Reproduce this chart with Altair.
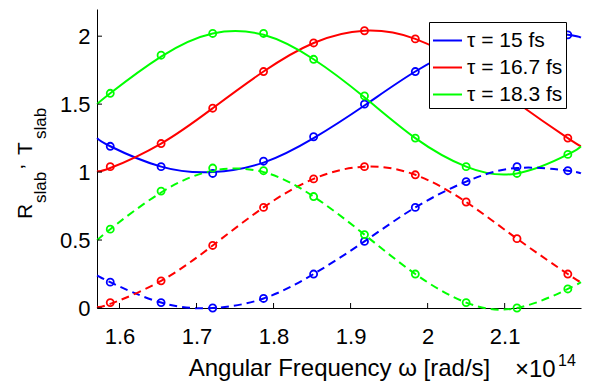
import altair as alt
import pandas as pd

# ---------------- data (x in units of 1e14 rad/s) ----------------
series = ["τ = 15 fs", "τ = 16.7 fs", "τ = 18.3 fs"]
colors = ["#0000ff", "#ff0000", "#00ff00"]

x_line = [1.571, 1.588, 1.654, 1.721, 1.787, 1.852, 1.918, 1.984, 2.050, 2.116, 2.182, 2.199]
blue_solid = [1.25, 1.19, 1.04, 1.00, 1.07, 1.25, 1.49, 1.74, 1.93, 2.03, 2.01, 1.99]
red_solid = [1.01, 1.03, 1.21, 1.47, 1.74, 1.95, 2.04, 1.98, 1.78, 1.51, 1.25, 1.19]
green_solid = [1.50, 1.58, 1.85, 2.02, 2.01, 1.83, 1.55, 1.25, 1.04, 0.99, 1.13, 1.19]
blue_dash = [0.24, 0.19, 0.04, 0.00, 0.07, 0.25, 0.49, 0.74, 0.93, 1.03, 1.01, 0.99]
red_dash = [0.01, 0.03, 0.20, 0.46, 0.74, 0.95, 1.04, 0.98, 0.78, 0.51, 0.25, 0.19]
green_dash = [0.50, 0.58, 0.85, 1.01, 1.00, 0.82, 0.54, 0.25, 0.04, 0.00, 0.14, 0.19]

x_mark = [1.588, 1.654, 1.721, 1.787, 1.852, 1.918, 1.984, 2.050, 2.116, 2.182]
blue_solid_m = [1.19, 1.04, 0.99, 1.08, 1.26, 1.50, 1.74, 1.93, 2.04, 2.01]
red_solid_m = [1.04, 1.21, 1.47, 1.74, 1.95, 2.04, 1.98, 1.78, 1.51, 1.25]
green_solid_m = [1.58, 1.86, 2.02, 2.02, 1.83, 1.56, 1.25, 1.04, 0.99, 1.13]
blue_dash_m = [0.19, 0.04, 0.00, 0.07, 0.25, 0.49, 0.74, 0.93, 1.04, 1.01]
red_dash_m = [0.04, 0.20, 0.46, 0.74, 0.95, 1.04, 0.98, 0.78, 0.51, 0.25]
green_dash_m = [0.58, 0.86, 1.03, 1.01, 0.82, 0.54, 0.25, 0.04, 0.00, 0.14]

x_ticks = [1.6, 1.7, 1.8, 1.9, 2.0, 2.1]
y_ticks = [0, 0.5, 1, 1.5, 2]
x_domain = [1.5708, 2.1991]
y_domain = [0, 2.2]

# ---------------- tables ----------------
def long(xs, ys_list, kind):
    rows = []
    for s, ys in zip(series, ys_list):
        for i, (xv, yv) in enumerate(zip(xs, ys)):
            rows.append({"series": s, "x": xv, "y": yv, "kind": kind, "order": i})
    return rows

lines = pd.DataFrame(long(x_line, [blue_solid, red_solid, green_solid], "solid")
                     + long(x_line, [blue_dash, red_dash, green_dash], "dash"))
marks = pd.DataFrame(long(x_mark, [blue_solid_m, red_solid_m, green_solid_m], "solid")
                     + long(x_mark, [blue_dash_m, red_dash_m, green_dash_m], "dash"))

W, H = 484, 299
FONT = "Liberation Sans"

xs = alt.Scale(domain=x_domain, nice=False, zero=False)
ys = alt.Scale(domain=y_domain, nice=False, zero=False)
cs = alt.Scale(domain=series, range=colors)

x_enc = alt.X("x:Q", scale=xs, axis=alt.Axis(
    values=x_ticks, format="~g", ticks=False, grid=False, labelPadding=18,
    labelFontSize=22, labelFont=FONT, labelColor="black", domainColor="black",
    title="Angular Frequency ω [rad/s]", titleFont=FONT, titleFontSize=24,
    titleFontWeight="normal", titleColor="black", titleX=W / 2, titleY=67,
    titleBaseline="alphabetic", titleAlign="center"))
y_enc = alt.Y("y:Q", scale=ys, axis=alt.Axis(
    values=y_ticks, format="~g", ticks=False, grid=False, labelPadding=7,
    labelFontSize=22, labelFont=FONT, labelColor="black", domainColor="black",
    title=""))

solid = alt.Chart(lines).transform_filter(alt.datum.kind == "solid").mark_line(
    strokeWidth=2, interpolate="natural").encode(
    x=x_enc, y=y_enc, order="order:Q",
    color=alt.Color("series:N", scale=cs, legend=alt.Legend(
        orient="none", legendX=332, legendY=13, title=None,
        symbolType="stroke", symbolSize=841, symbolStrokeWidth=2,
        labelFontSize=21, labelFont=FONT, labelColor="black", labelOffset=4,
        strokeColor="black", fillColor="white", padding=3, rowPadding=1,
        cornerRadius=0)))

dashed = alt.Chart(lines).transform_filter(alt.datum.kind == "dash").mark_line(
    strokeWidth=2, interpolate="natural", strokeDash=[8, 5]).encode(
    x="x:Q", y="y:Q", order="order:Q",
    color=alt.Color("series:N", scale=cs, legend=None))

points = alt.Chart(marks).mark_point(shape="circle", filled=False, strokeWidth=1.8,
                                     size=50, opacity=1).encode(
    x="x:Q", y="y:Q", color=alt.Color("series:N", scale=cs, legend=None))

xt = alt.Chart(pd.DataFrame({"t": x_ticks})).mark_rule(color="black", strokeWidth=1).encode(
    x="t:Q", y=alt.value(H - 5), y2=alt.value(H))
yt = alt.Chart(pd.DataFrame({"t": y_ticks})).mark_rule(color="black", strokeWidth=1).encode(
    y="t:Q", x=alt.value(0), x2=alt.value(5))

one = pd.DataFrame({"a": [0]})

def txt(s, size, x, y, angle=0):
    return alt.Chart(one).mark_text(text=s, font=FONT, fontSize=size, color="black",
                                    align="left", baseline="alphabetic",
                                    angle=angle).encode(x=alt.value(x), y=alt.value(y))

ytitle = [
    txt("R", 21, -65, 210, 270),
    txt("slab", 17, -51, 194, 270),
    txt("’", 21, -62, 160, 270),
    txt("T", 21, -65, 146, 270),
    txt("slab", 17, -51, 130, 270),
]
expo = [txt("×10", 24, 418, 368), txt("14", 16, 461, 357)]

chart = alt.layer(solid, dashed, points, xt, yt, *ytitle, *expo).properties(
    width=W, height=H,
    autosize=alt.AutoSizeParams(type="none"),
    padding={"left": 89, "top": 1, "right": 3, "bottom": 76},
).configure_view(strokeWidth=0)

chart.save("out.html", embed_options={"renderer": "svg", "actions": False})
